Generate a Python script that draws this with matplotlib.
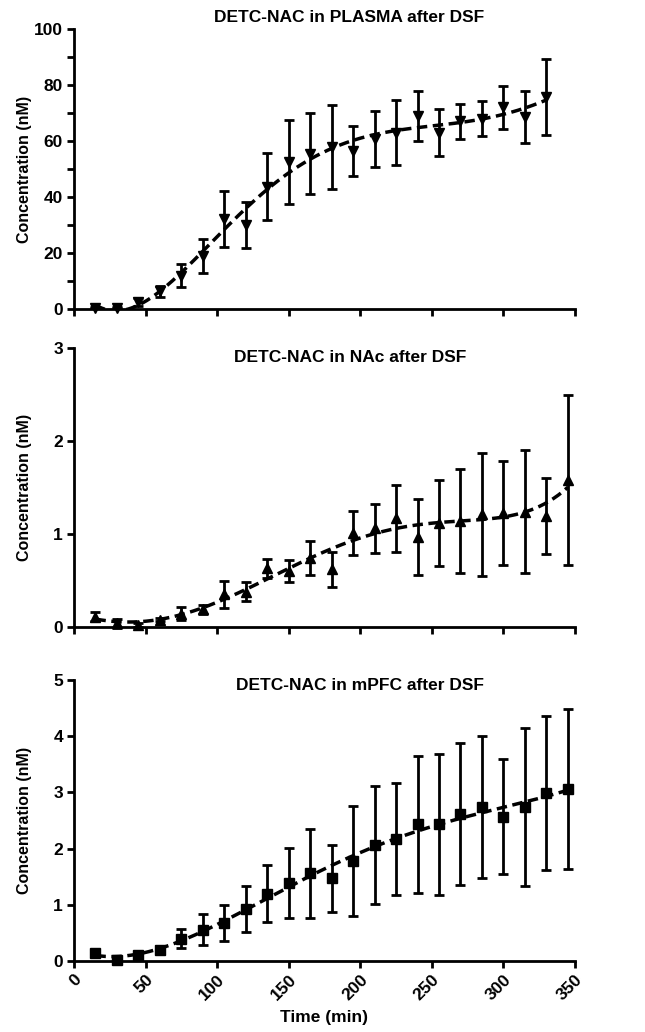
import numpy as np
import matplotlib
matplotlib.use('Agg')
import matplotlib.pyplot as plt
from matplotlib.ticker import MultipleLocator

plt.rcParams['font.family'] = ['Liberation Sans', 'DejaVu Sans']
plt.rcParams['font.weight'] = 'bold'

# sampling times (min)
t_plasma = np.arange(15, 331, 15)
t_brain = np.arange(15, 346, 15)

# DETC-NAC in plasma (mean, error)
plasma_mean = [0.5, 0.5, 2.4, 6.3, 11.9, 19.0, 32.0, 30.0, 43.7, 52.6, 55.4,
               58.0, 56.5, 60.7, 63.0, 69.0, 63.0, 67.0, 68.0, 72.0, 68.7, 75.6]
plasma_err = [0.3, 0.3, 1.5, 2.0, 4.0, 6.0, 10.0, 8.3, 12.0, 15.0, 14.5,
              15.0, 9.0, 10.0, 11.6, 9.0, 8.3, 6.3, 6.3, 7.7, 9.3, 13.6]

# DETC-NAC in NAc
nac_mean = [0.11, 0.04, 0.025, 0.08, 0.14, 0.19, 0.35, 0.38, 0.63, 0.60, 0.74, 0.62,
            1.01, 1.06, 1.17, 0.97, 1.12, 1.14, 1.21, 1.23, 1.24, 1.19, 1.58]
nac_err = [0.05, 0.05, 0.02, 0.02, 0.07, 0.05, 0.15, 0.10, 0.10, 0.12, 0.18, 0.19,
           0.24, 0.26, 0.36, 0.41, 0.46, 0.56, 0.66, 0.56, 0.66, 0.41, 0.91]

# DETC-NAC in mPFC
mpfc_mean = [0.15, 0.025, 0.10, 0.19, 0.40, 0.56, 0.67, 0.93, 1.20, 1.39, 1.56, 1.47,
             1.78, 2.06, 2.17, 2.43, 2.43, 2.62, 2.74, 2.57, 2.74, 2.99, 3.06]
mpfc_err = [0.05, 0.02, 0.04, 0.07, 0.17, 0.28, 0.32, 0.41, 0.50, 0.62, 0.79, 0.59,
            0.98, 1.05, 0.99, 1.22, 1.26, 1.26, 1.26, 1.02, 1.40, 1.37, 1.43]

panels = [
    ('DETC-NAC in PLASMA after DSF', t_plasma, plasma_mean, plasma_err, 'v', 100, 20, 10, 349, 18),
    ('DETC-NAC in NAc after DSF', t_brain, nac_mean, nac_err, '^', 3, 1, None, 350, 358),
    ('DETC-NAC in mPFC after DSF', t_brain, mpfc_mean, mpfc_err, 's', 5, 1, None, 360, 685),
]
rects = [[74, 29, 501, 280], [74, 348, 501, 279], [74, 680, 501, 281]]

W, H = 645, 1032
fig = plt.figure(figsize=(W / 100, H / 100), dpi=100)

for i, (title, t, m, e, mk, ymax, ymaj, ymin, tx, ty) in enumerate(panels):
    x0, y0, w, h = rects[i]
    ax = fig.add_axes([x0 / W, 1 - (y0 + h) / H, w / W, h / H])
    ax.errorbar(t, m, yerr=e, fmt=mk, color='black', ms=7.5, elinewidth=2,
                capsize=3.5, capthick=2, clip_on=False, zorder=3)
    # polynomial fit as dashed line
    coef = np.polyfit(t, m, 5)
    tt = np.linspace(t[0], t[-1], 300)
    ax.plot(tt, np.polyval(coef, tt), '--', color='black', lw=2.5,
            dashes=(3, 1.6), zorder=4)
    ax.set_xlim(0, 350)
    ax.set_ylim(0, ymax)
    ax.xaxis.set_major_locator(MultipleLocator(50))
    ax.yaxis.set_major_locator(MultipleLocator(ymaj))
    if ymin:
        ax.yaxis.set_minor_locator(MultipleLocator(ymin))
    for s in ['top', 'right']:
        ax.spines[s].set_visible(False)
    for s in ['left', 'bottom']:
        ax.spines[s].set_linewidth(2)
    ax.tick_params(which='both', width=2, length=5, labelsize=12.5, direction='out', pad=3)
    ax.set_ylabel('Concentration (nM)', fontsize=11.5, fontweight='bold')
    ax.yaxis.set_label_coords(-0.083, 0.5)
    fig.text(tx / W, 1 - ty / H, title, ha='center', va='center',
             fontsize=12.5, fontweight='bold')
    if i < 2:
        ax.set_xticklabels([])
    else:
        plt.setp(ax.get_xticklabels(), rotation=45, ha='right', rotation_mode='anchor')
        ax.set_xlabel('Time (min)', fontsize=12.5, fontweight='bold', labelpad=5)

fig.savefig('out.png', dpi=100)
